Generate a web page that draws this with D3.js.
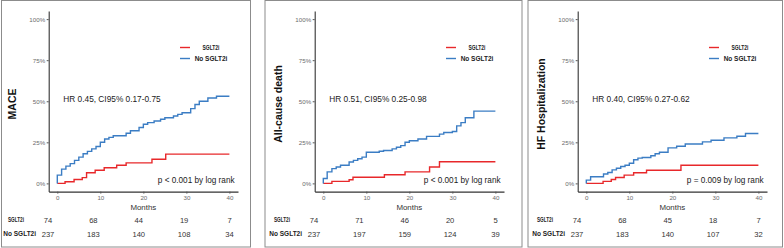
<!DOCTYPE html>
<html>
<head>
<meta charset="utf-8">
<script src="https://cdn.jsdelivr.net/npm/d3@7"></script>
<style>
  body { margin: 0; background: #fff; }
  svg { display: block; font-family: "Liberation Sans", Arial, sans-serif; }
</style>
</head>
<body>
<svg id="km" width="784" height="248"></svg>
<script>
// time points of the risk table / x ticks
const months = [0, 10, 20, 30, 40];
const yTicks = [0, 0.25, 0.5, 0.75, 1];
const groups = ["SGLT2i", "No SGLT2i"];

// cumulative incidence (%) step points [month, %]
const maceSglt2 = [[0,0],[1.8,1],[3.9,2.4],[5.8,3.5],[6.8,6.5],[8.8,8],[10.9,9.5],[13.8,11],[16,12.5],[22,14.7],[25.2,17.8],[40,17.8]];
const maceNoSglt2 = [[0,0],[0,5],[1,8.7],[2,10.5],[3,12],[4,14],[5,16],[6,18],[7,19.5],[8,21],[9,22.5],[10,25],[11,27],[12,28],[13,29],[16,30.5],[17,32],[19,34],[20,36],[21,37],[22.5,38],[24,39],[25,40],[27,41],[28,42],[29,43],[31,45.5],[32,48],[33,50],[35,52],[37,53],[40,53]];
const deathSglt2 = [[0,0],[2,1.2],[6,2.2],[6.9,3.7],[14.2,5.3],[19,7],[24.7,10],[27,13.2],[40,13.2]];
const deathNoSglt2 = [[0,0],[0,3],[0.9,7],[2,9],[3,10],[4,11],[6,13],[7,14],[8,15],[9,16],[10,19],[13,19.6],[14,20],[16,21],[17,22],[18,23],[19,25],[20,26],[22,27],[24,28.6],[27,30],[28,31],[30,31.6],[31,35],[32,37],[33,40],[35,44],[40,44]];
const hfSglt2 = [[0,0],[3.9,1.2],[5.8,2.4],[6.8,3.6],[8.8,5],[11,6.5],[14,8],[22,11],[40,11]];
const hfNoSglt2 = [[0,0],[0,2],[1,4],[4,5.7],[5,6.6],[6,8.2],[7,9.2],[8,10.3],[9,11],[10,12.3],[11,14.4],[12,15.4],[13,15.8],[15,16.8],[16,18],[17,19],[19,21.6],[21,22.6],[23,24],[27,25.3],[29,26.3],[32,27.7],[35,28.7],[37,30.4],[40,30.4]];

// numbers at risk
const maceRiskSglt2 = [74, 68, 44, 19, 7];
const maceRiskNo = [237, 183, 140, 108, 34];
const deathRiskSglt2 = [74, 71, 46, 20, 5];
const deathRiskNo = [237, 197, 159, 124, 39];
const hfRiskSglt2 = [74, 68, 45, 18, 7];
const hfRiskNo = [237, 183, 140, 107, 32];

const titles = ["MACE", "All-cause death", "HF Hospitalization"];
const hrLabels = ["HR 0.45, CI95% 0.17-0.75", "HR 0.51, CI95% 0.25-0.98", "HR 0.40, CI95% 0.27-0.62"];
const pLabels = ["p < 0.001 by log rank", "p < 0.001 by log rank", "p = 0.009 by log rank"];

const panels = [
  { curves: [maceSglt2, maceNoSglt2], risk: [maceRiskSglt2, maceRiskNo] },
  { curves: [deathSglt2, deathNoSglt2], risk: [deathRiskSglt2, deathRiskNo] },
  { curves: [hfSglt2, hfNoSglt2], risk: [hfRiskSglt2, hfRiskNo] }
];

const colors = ["#e8282b", "#3b7dc4"];
const offsets = [0, 266, 529];
const frames = [[1.5, 0.5, 249, 246.5], [265, 0.5, 257, 246.5], [528, 0.5, 254.5, 246.5]];

const svg = d3.select("#km");

panels.forEach((p, i) => {
  const ox = offsets[i];
  const g = svg.append("g");

  g.append("rect")
    .attr("x", frames[i][0]).attr("y", frames[i][1])
    .attr("width", frames[i][2]).attr("height", frames[i][3])
    .attr("fill", "none").attr("stroke", "#8c8c8c").attr("stroke-width", 1);

  const x = d3.scaleLinear().domain([-2, 42]).range([ox + 48.7, ox + 238]);
  const y = d3.scaleLinear().domain([-0.05, 1.05]).range([191.6, 10.9]);

  // axes
  const yAxis = g.append("g")
    .attr("transform", `translate(${x(-2)},0)`)
    .call(d3.axisLeft(y).tickValues(yTicks).tickFormat(d3.format(".0%")).tickSize(2).tickSizeOuter(0));
  const xAxis = g.append("g")
    .attr("transform", `translate(0,${y(-0.05)})`)
    .call(d3.axisBottom(x).tickValues(months).tickSize(2).tickSizeOuter(0));
  [yAxis, xAxis].forEach(a => {
    a.select(".domain").attr("stroke", "#333").attr("stroke-width", 1.1);
    a.selectAll(".tick line").attr("stroke", "#555");
    a.selectAll(".tick text")
      .attr("fill", "#6b6b6b")
      .style("font-size", "6.2px")
      .style("font-family", "'Liberation Sans', Arial, sans-serif");
  });
  yAxis.selectAll(".tick text").attr("x", -3.5);
  xAxis.selectAll(".tick text").attr("y", 4);

  // curves
  const line = d3.line()
    .x(d => x(d[0]))
    .y(d => y(d[1] / 100))
    .curve(d3.curveStepAfter);
  p.curves.forEach((c, k) => {
    g.append("path")
      .datum(c)
      .attr("d", line)
      .attr("fill", "none")
      .attr("stroke", colors[k])
      .attr("stroke-width", 1.4);
  });

  // y title
  g.append("text")
    .attr("transform", `translate(${ox + 15.5},104) rotate(-90)`)
    .attr("text-anchor", "middle")
    .style("font-size", "10.5px")
    .style("font-weight", "bold")
    .attr("fill", "#111")
    .text(titles[i]);

  // legend
  groups.forEach((name, k) => {
    const ly = 47.5 + k * 11;
    g.append("line")
      .attr("x1", ox + 180).attr("x2", ox + 190)
      .attr("y1", ly).attr("y2", ly)
      .attr("stroke", colors[k]).attr("stroke-width", 1.4);
    const t = g.append("text")
      .attr("x", ox + 211).attr("y", ly + 2.2)
      .attr("text-anchor", "middle")
      .style("font-size", "6.5px")
      .style("font-weight", "bold")
      .attr("fill", "#222")
      .text(name);
    if (k === 0) t.attr("textLength", 17).attr("lengthAdjust", "spacingAndGlyphs");
  });

  // annotations
  g.append("text")
    .attr("x", x(1.4)).attr("y", y(0.515) + 3)
    .style("font-size", "8.3px")
    .attr("fill", "#1a1a1a")
    .text(hrLabels[i]);
  g.append("text")
    .attr("x", x(41.2)).attr("y", y(0.02) + 3)
    .attr("text-anchor", "end")
    .style("font-size", "8.2px")
    .attr("fill", "#1a1a1a")
    .text(pLabels[i]);

  g.append("text")
    .attr("x", x(20)).attr("y", 210)
    .attr("text-anchor", "middle")
    .style("font-size", "7.9px")
    .attr("fill", "#333")
    .text("Months");

  // risk table
  const xt = d3.scaleLinear().domain([0, 40]).range([ox + 48, ox + 229.5]);
  p.risk.forEach((row, k) => {
    const ry = 222.7 + k * 14;
    const lab = g.append("text")
      .attr("x", ox + (k === 0 ? 8 : 3.3)).attr("y", ry - 0.5)
      .style("font-size", "6.5px")
      .style("font-weight", "bold")
      .attr("fill", "#222")
      .text(groups[k]);
    if (k === 0) lab.attr("textLength", 16).attr("lengthAdjust", "spacingAndGlyphs");
    g.selectAll(null)
      .data(row)
      .enter().append("text")
      .attr("x", (d, j) => xt(months[j]))
      .attr("y", ry)
      .attr("text-anchor", "middle")
      .style("font-size", "7.6px")
      .attr("fill", "#333")
      .text(d => d);
  });
});
</script>
</body>
</html>
